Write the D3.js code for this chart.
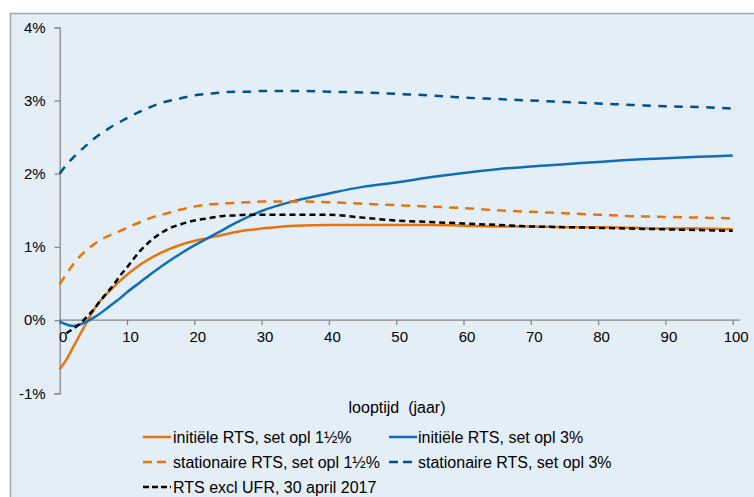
<!DOCTYPE html>
<html><head><meta charset="utf-8">
<script src="https://cdn.jsdelivr.net/npm/d3@7"></script>
<style>
html,body{margin:0;padding:0;background:#fff;}
svg{display:block;font-family:"Liberation Sans",Arial,sans-serif;}
</style></head>
<body>
<svg id="chart" width="754" height="497"></svg>
<script>
// ---- data ----
const years = [0,1,2,3,4,5,6,7,8,9,10,12,14,16,18,20,22,24,26,28,30,35,40,45,50,55,60,65,70,75,80,85,90,95,100];
const initieel15 = [-0.67,-0.54,-0.37,-0.20,-0.03,0.13,0.26,0.36,0.45,0.54,0.62,0.76,0.87,0.96,1.03,1.08,1.12,1.16,1.20,1.23,1.25,1.29,1.30,1.30,1.30,1.30,1.29,1.28,1.28,1.27,1.27,1.26,1.25,1.25,1.24];
const initieel3 = [-0.02,-0.06,-0.08,-0.06,-0.02,0.03,0.09,0.16,0.23,0.30,0.38,0.52,0.66,0.79,0.91,1.02,1.12,1.22,1.32,1.41,1.49,1.63,1.73,1.82,1.88,1.95,2.01,2.06,2.10,2.13,2.16,2.19,2.21,2.23,2.25];
const stationair15 = [0.49,0.63,0.76,0.87,0.96,1.03,1.09,1.14,1.18,1.22,1.26,1.34,1.41,1.46,1.51,1.55,1.58,1.59,1.60,1.61,1.62,1.62,1.61,1.59,1.57,1.55,1.53,1.50,1.48,1.46,1.44,1.42,1.41,1.40,1.39];
const stationair3 = [2.00,2.12,2.22,2.31,2.39,2.47,2.54,2.60,2.66,2.71,2.76,2.85,2.93,2.99,3.03,3.07,3.09,3.11,3.12,3.12,3.13,3.13,3.12,3.11,3.09,3.07,3.04,3.02,3.00,2.98,2.96,2.94,2.92,2.91,2.89];
const rtsExclUfr = [null,-0.18,-0.12,-0.05,0.04,0.14,0.26,0.37,0.48,0.61,0.72,0.95,1.12,1.24,1.31,1.36,1.39,1.42,1.43,1.44,1.44,1.44,1.44,1.40,1.36,1.34,1.32,1.30,1.28,1.27,1.26,1.25,1.24,1.23,1.22];
const xTicks = [0,10,20,30,40,50,60,70,80,90,100];
const yTicks = [-1,0,1,2,3,4];
const seriesNames = ["initiële RTS, set opl 1½%","initiële RTS, set opl 3%","stationaire RTS, set opl 1½%","stationaire RTS, set opl 3%","RTS excl UFR, 30 april 2017"];
const xTitle = "looptijd  (jaar)";

// ---- styles ----
const styles = [
  {values: initieel15, color:"#E8740C", dash:null},
  {values: initieel3, color:"#0F6DBA", dash:null},
  {values: stationair15, color:"#E8740C", dash:"9,7"},
  {values: stationair3, color:"#00508F", dash:"8.5,7.5"},
  {values: rtsExclUfr, color:"#000000", dash:"6,4"}
];

const svg = d3.select("#chart");
svg.append("rect").attr("x",10.5).attr("y",13.5).attr("width",760).attr("height",500)
  .attr("fill","#E4EEF7").attr("stroke","#A6A6A6").attr("stroke-width",1.5);

const x = d3.scaleLinear().domain([0,100]).range([59.7,732.7]);
const y = d3.scaleLinear().domain([-1,4]).range([393.3,27.3]);

// y axis
const yAxis = svg.append("g").attr("transform","translate(59.7,0)")
  .call(d3.axisLeft(y).tickValues(yTicks).tickFormat(d=>d+"%").tickSize(5).tickPadding(9));
yAxis.select(".domain").attr("stroke","#868686").attr("stroke-width",1.3);
yAxis.selectAll(".tick line").attr("stroke","#868686").attr("stroke-width",1.3);
yAxis.selectAll("text").attr("font-size",15).attr("fill","#000").attr("font-family","Liberation Sans, Arial, sans-serif");

// x axis at 0%
const xAxis = svg.append("g").attr("transform",`translate(0,${y(0)})`)
  .call(d3.axisBottom(x).tickValues(xTicks).tickFormat(d3.format("d")).tickSize(5).tickPadding(6).tickSizeOuter(0));
xAxis.select(".domain").attr("stroke","#868686").attr("stroke-width",1.3).attr("d",`M${x(0)},0H740`);
xAxis.selectAll(".tick line").attr("stroke","#868686").attr("stroke-width",1.3);
xAxis.selectAll("text").attr("font-size",15).attr("fill","#000").attr("dx",3).attr("font-family","Liberation Sans, Arial, sans-serif");

// lines
const line = d3.line().defined(d=>d[1]!=null).x(d=>x(d[0])).y(d=>y(d[1])).curve(d3.curveMonotoneX);
[0,1,2,3,4].forEach(i=>{
  const s = styles[i];
  const pts = years.map((yr,j)=>[yr,s.values[j]]);
  svg.append("path").datum(pts).attr("d",line).attr("fill","none")
    .attr("stroke",s.color).attr("stroke-width",2.5)
    .attr("stroke-dasharray",s.dash).attr("stroke-linejoin","round");
});

// axis title
svg.append("text").attr("x",397).attr("y",413).attr("text-anchor","middle")
  .attr("font-size",16).style("white-space","pre").attr("xml:space","preserve").text(xTitle);

// legend
const legendPos = [
  {lx:143, tx:173, y:437},
  {lx:389, tx:418, y:437},
  {lx:143, tx:173, y:462},
  {lx:389, tx:418, y:462},
  {lx:143, tx:173, y:487}
];
legendPos.forEach((p,i)=>{
  const s = styles[i];
  svg.append("line").attr("x1",p.lx).attr("x2",p.lx+28).attr("y1",p.y).attr("y2",p.y)
    .attr("stroke",s.color).attr("stroke-width",2.5).attr("stroke-dasharray",s.dash ? (i===4?"6,3":"9,5"):null);
  svg.append("text").attr("x",p.tx).attr("y",p.y+5.5).attr("font-size",16).attr("fill","#000").text(seriesNames[i]);
});
</script>
</body></html>
